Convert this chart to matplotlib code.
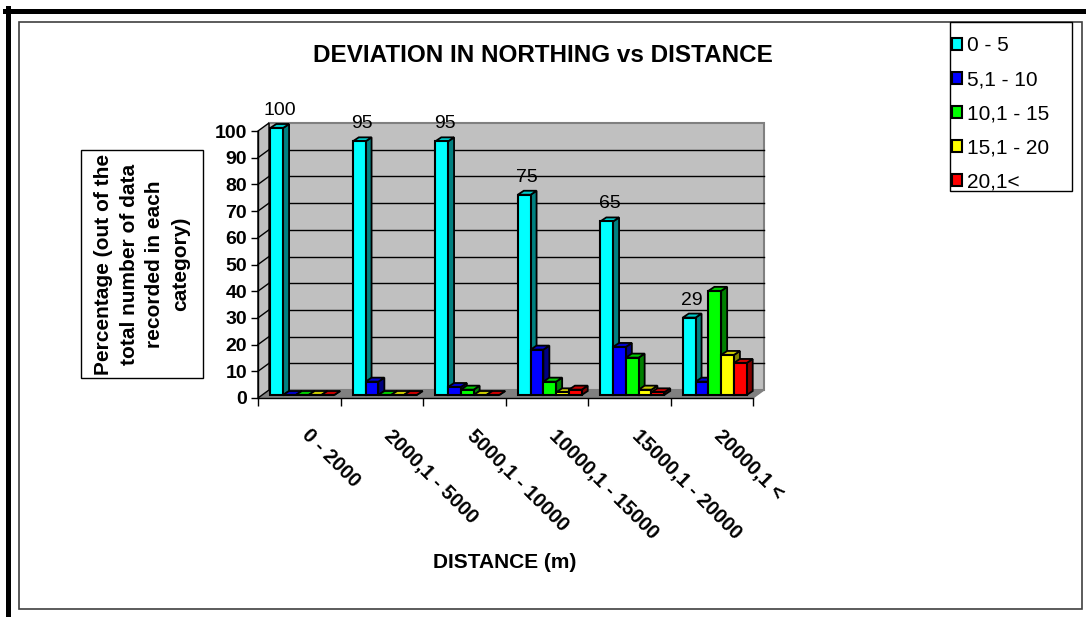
import numpy as np
import matplotlib
matplotlib.use('Agg')
import matplotlib.pyplot as plt
from matplotlib.patches import Polygon, Rectangle, Patch
from matplotlib.lines import Line2D

plt.rcParams['font.family'] = ['Liberation Sans', 'DejaVu Sans']

# data
categories = ['0 - 2000', '2000,1 - 5000', '5000,1 - 10000',
              '10000,1 - 15000', '15000,1 - 20000', '20000,1 <']
series = ['0 - 5', '5,1 - 10', '10,1 - 15', '15,1 - 20', '20,1<']
dev_0_5 = [100, 95, 95, 75, 65, 29]
dev_5_10 = [0, 5, 3, 17, 18, 5]
dev_10_15 = [0, 0, 2, 5, 14, 39]
dev_15_20 = [0, 0, 0, 1, 2, 15]
dev_20_up = [0, 0, 0, 2, 1, 12]
values = [dev_0_5, dev_5_10, dev_10_15, dev_15_20, dev_20_up]
colors = ['#00ffff', '#0000ff', '#00ff00', '#ffff00', '#ff0000']

W, H = 1086, 617
fig = plt.figure(figsize=(W / 100, H / 100), dpi=100)


def fx(p):
    return p / W


def fy(p):
    return 1 - p / H


# frame like the original sheet
fig.add_artist(Line2D([fx(5), 1], [fy(10.5), fy(10.5)], lw=3.6, color='black'))
fig.add_artist(Line2D([fx(7.5), fx(7.5)], [fy(8), 0], lw=3.6, color='black'))
fig.add_artist(Rectangle((fx(18.5), fy(609)), (1082 - 18.5) / W, (609 - 21.5) / H,
                         transform=fig.transFigure, fill=False, ec='#404040', lw=1.2))

# plot area
ax = fig.add_axes([fx(258), fy(398), (753 - 258) / W, (398 - 131) / H])
ax.set_xlim(0, 6)
ax.set_ylim(0, 100)
ax.patch.set_visible(False)
ncat = len(categories)
sx = (753 - 258) / ncat
sy = (398 - 131) / 100.0


def off(dxp, dyp):
    # pixel offsets -> data offsets
    return dxp / sx, dyp / sy


wx, wy = off(11, 8)
ax.add_patch(Polygon([(0, 0), (ncat, 0), (ncat + wx, wy), (wx, wy)],
                     fc='#808080', ec='#808080', lw=1, clip_on=False, zorder=1))
ax.add_patch(Polygon([(wx, wy), (ncat + wx, wy), (ncat + wx, 100 + wy), (wx, 100 + wy)],
                     fc='#c0c0c0', ec='#808080', lw=1.5, clip_on=False, zorder=1))
ax.add_patch(Polygon([(0, 0), (wx, wy), (wx, 100 + wy), (0, 100)],
                     fc='#c0c0c0', ec='black', lw=1, clip_on=False, zorder=1))
for v in range(10, 100, 10):
    ax.plot([wx, ncat + wx], [v + wy, v + wy], color='black', lw=1, clip_on=False, zorder=1.5)
    ax.plot([0, wx], [v, v + wy], color='black', lw=1, clip_on=False, zorder=1.5)

# 3d-ish bars
bw = 0.155
bx, by = off(3, 3)
dx, dy = off(6, 4)
x = np.arange(ncat)
for j, (vals, c) in enumerate(zip(values, colors)):
    rgb = np.array(matplotlib.colors.to_rgb(c))
    lefts = x + 0.5 + (j - 2.5) * bw + bx
    for x0, v in zip(lefts, vals):
        x1 = x0 + bw
        top = by + v
        ax.add_patch(Polygon([(x1, by), (x1, top), (x1 + dx, top + dy), (x1 + dx, by + dy)],
                             fc=rgb * 0.5, ec='black', lw=1.3, clip_on=False, zorder=3 + 2 * j))
        ax.add_patch(Polygon([(x0, top), (x1, top), (x1 + dx, top + dy), (x0 + dx, top + dy)],
                             fc=rgb * 0.8, ec='black', lw=1.3, clip_on=False, zorder=3 + 2 * j))
    ax.bar(lefts, vals, width=bw, bottom=by, align='edge', color=c, edgecolor='black',
           lw=1.5, clip_on=False, zorder=4 + 2 * j)
    if j == 0:
        for x0, v in zip(lefts, vals):
            ax.annotate(str(v), xy=(x0 + bw / 2 + dx / 2, by + v + dy), xytext=(0, 5),
                        textcoords='offset pixels', ha='center', va='bottom', fontsize=14,
                        annotation_clip=False, zorder=20)

for s in ['top', 'right']:
    ax.spines[s].set_visible(False)
for s in ['left', 'bottom']:
    ax.spines[s].set_color('black')
    ax.spines[s].set_linewidth(1)
    ax.spines[s].set_zorder(2)

ax.set_yticks(range(0, 101, 10))
ax.set_yticklabels([str(v) for v in range(0, 101, 10)], fontweight='bold', fontsize=14)
ax.tick_params(axis='y', direction='out', length=5, width=1, pad=3)

# category labels sit a little right of the group centre
lab_shift, _ = off(12, 0)
ax.set_xticks(np.arange(ncat + 1), minor=True)
ax.set_xticks(x + 0.5 + lab_shift)
ax.set_xticklabels(categories, rotation=-45, ha='left', va='top', rotation_mode='anchor',
                   fontweight='bold', fontsize=14.5)
ax.tick_params(axis='x', which='minor', direction='out', length=6, width=1)
ax.tick_params(axis='x', which='major', length=0, pad=20)

# titles
fig.text(fx(543), fy(56), 'DEVIATION IN NORTHING vs DISTANCE', ha='center', va='center',
         fontsize=17.5, fontweight='bold')
fig.text(fx(505), fy(562), 'DISTANCE (m)', ha='center', va='center',
         fontsize=15, fontweight='bold')
fig.add_artist(Rectangle((fx(81), fy(378)), (203 - 81) / W, (378 - 150) / H,
                         transform=fig.transFigure, fill=False, ec='black', lw=1))
fig.text(fx(142), fy(264), 'Percentage (out of the\ntotal number of data\nrecorded in each\ncategory)',
         rotation=90, ha='center', va='center', multialignment='center',
         fontsize=15, fontweight='bold', linespacing=1.43)

# legend
fig.add_artist(Rectangle((fx(950), fy(191)), 122 / W, (191 - 22) / H,
                         transform=fig.transFigure, fill=False, ec='black', lw=1))
handles = [Patch(fc=c, ec='black', lw=1.5) for c in colors]
fig.legend(handles, series, loc='upper left', bbox_to_anchor=(fx(952), fy(36)),
           frameon=False, fontsize=15, handlelength=0.5, handleheight=0.5,
           handletextpad=0.2, labelspacing=0.72, borderpad=0, borderaxespad=0)

fig.savefig('out.png', dpi=100)
